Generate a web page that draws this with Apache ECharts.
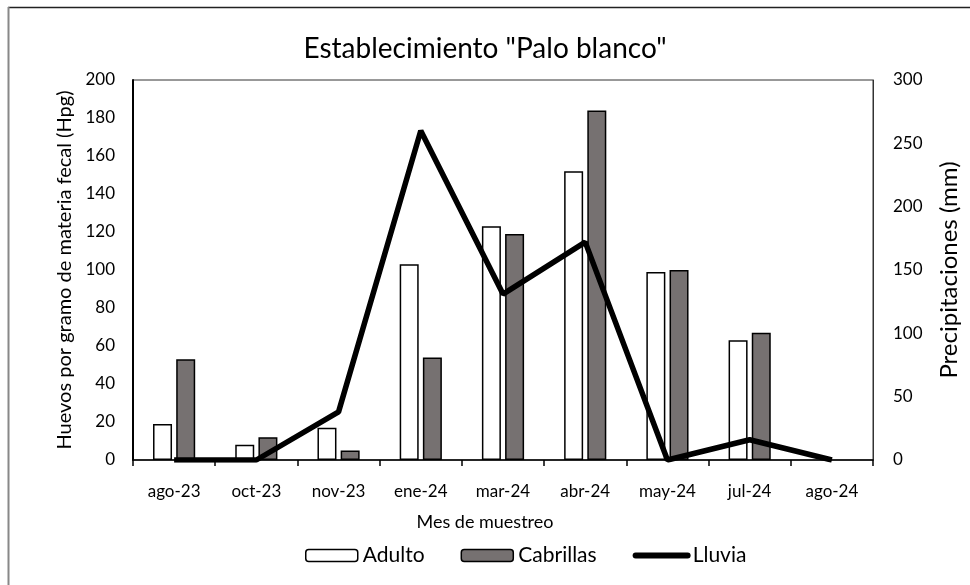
<!DOCTYPE html>
<html>
<head>
<meta charset="utf-8">
<script src="https://cdn.jsdelivr.net/npm/echarts@6/dist/echarts.min.js"></script>
<style>html,body{margin:0;padding:0;background:#fff}#c{width:970px;height:585px}</style>
</head>
<body>
<div id="c"></div>
<script>
var categories = ['ago-23','oct-23','nov-23','ene-24','mar-24','abr-24','may-24','jul-24','ago-24'];
var adulto = [19, 8, 17, 103, 123, 152, 99, 63, null];
var cabrillas = [53, 12, 5, 54, 119, 184, 100, 67, null];
var lluvia = [0, 0, 38, 260, 131, 172, 0, 16, 0];
var leftTicks = {min: 0, max: 200, interval: 20};
var rightTicks = {min: 0, max: 300, interval: 50};

var FONT = 'Lato';
var chart = echarts.init(document.getElementById('c'), null, {renderer: 'canvas'});
chart.setOption({
  backgroundColor: '#fff',
  animation: false,
  textStyle: {fontFamily: FONT, color: '#000'},
  title: {
    text: 'Establecimiento "Palo blanco"',
    left: 'center', top: 30,
    textStyle: {fontFamily: FONT, fontSize: 28, fontWeight: 'normal', color: '#000'}
  },
  graphic: [
    {type: 'line', shape: {x1: 8, y1: 7.5, x2: 970, y2: 7.5}, style: {stroke: '#222', lineWidth: 1.5}},
    {type: 'line', shape: {x1: 8.5, y1: 7, x2: 8.5, y2: 585}, style: {stroke: '#888', lineWidth: 2}}
  ],
  grid: {left: 133, right: 97, top: 80, bottom: 125, show: true, borderColor: '#333', borderWidth: 1, backgroundColor: 'transparent'},
  legend: {
    bottom: 14, left: 300,
    itemWidth: 52, itemHeight: 12, itemGap: 36,
    textStyle: {fontFamily: FONT, fontSize: 21, color: '#000'},
    data: [
      {name: 'Adulto', itemStyle: {color: '#fff', borderColor: '#000', borderWidth: 1.5}},
      {name: 'Cabrillas', itemStyle: {color: '#767171', borderColor: '#000', borderWidth: 1.5}},
      {name: 'Lluvia', itemStyle: {color: 'rgba(0,0,0,0)', borderColor: 'rgba(0,0,0,0)', borderWidth: 0, opacity: 0},
        lineStyle: {color: '#000', width: 6, cap: 'round'}}
    ]
  },
  xAxis: {
    type: 'category', data: categories,
    name: 'Mes de muestreo', nameLocation: 'middle', nameGap: 53,
    nameTextStyle: {fontFamily: FONT, fontSize: 18, color: '#000', padding: [0, 36, 0, 0]},
    axisLine: {lineStyle: {color: '#000', width: 1.5}},
    axisTick: {show: true, inside: false, length: 6, lineStyle: {color: '#000', width: 1.5}},
    axisLabel: {fontFamily: FONT, fontSize: 17, color: '#000', margin: 23}
  },
  yAxis: [
    {
      type: 'value', min: leftTicks.min, max: leftTicks.max, interval: leftTicks.interval,
      name: 'Huevos por gramo de materia fecal (Hpg)', nameLocation: 'middle', nameGap: 58, nameRotate: 90,
      nameTextStyle: {fontFamily: FONT, fontSize: 20, color: '#000'},
      axisLine: {show: true, lineStyle: {color: '#000', width: 2}},
      axisTick: {show: false},
      splitLine: {show: false},
      axisLabel: {fontFamily: FONT, fontSize: 17, color: '#000', margin: 18}
    },
    {
      type: 'value', min: rightTicks.min, max: rightTicks.max, interval: rightTicks.interval,
      name: 'Precipitaciones (mm)', nameLocation: 'middle', nameGap: 64, nameRotate: 90,
      nameTextStyle: {fontFamily: FONT, fontSize: 24, color: '#000'},
      axisLine: {show: true, lineStyle: {color: '#333', width: 1}},
      axisTick: {show: false},
      splitLine: {show: false},
      axisLabel: {fontFamily: FONT, fontSize: 17, color: '#000', margin: 20}
    }
  ],
  series: [
    {name: 'Adulto', type: 'bar', data: adulto, barWidth: 19, barGap: '22%',
      itemStyle: {color: '#fff', borderColor: '#000', borderWidth: 1.5}},
    {name: 'Cabrillas', type: 'bar', data: cabrillas, barWidth: 19,
      itemStyle: {color: '#767171', borderColor: '#000', borderWidth: 1.5}},
    {name: 'Lluvia', type: 'line', yAxisIndex: 1, data: lluvia, symbol: 'none', z: 5,
      lineStyle: {color: '#000', width: 5.5}, itemStyle: {color: '#000'}}
  ]
});
</script>
</body>
</html>
